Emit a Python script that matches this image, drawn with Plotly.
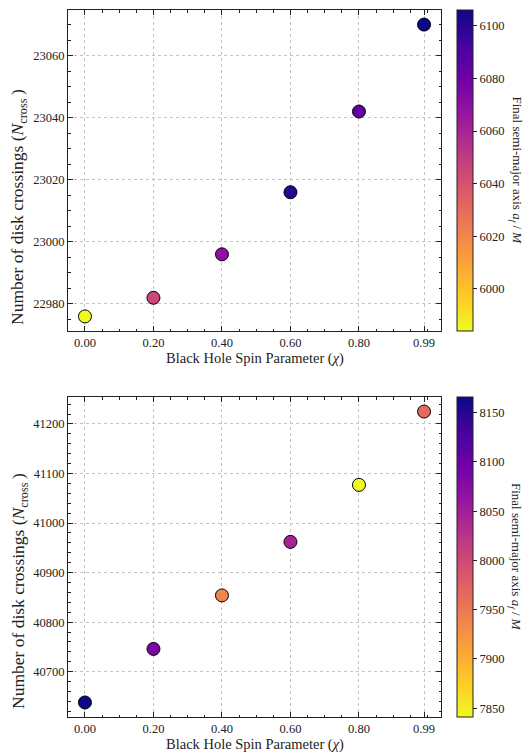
import plotly.graph_objects as go

spin = [0.0, 0.2, 0.4, 0.6, 0.8, 0.99]
spin_labels = ["0.00", "0.20", "0.40", "0.60", "0.80", "0.99"]

ncross_top = [22976, 22982, 22996, 23016, 23042, 23070]
afinal_top = [5984, 6045, 6070, 6100, 6085, 6106]

ncross_bot = [40638, 40746, 40854, 40962, 41077, 41225]
afinal_bot = [8166, 8085, 7938, 8046, 7841, 7965]

FONT = "Times New Roman, Liberation Serif, Tinos, serif"
W, H = 528, 752

def px_x(p):
    return p / W

def px_y(p):
    return 1 - p / H

fig = go.Figure()

fig.add_trace(go.Scatter(
    x=spin, y=ncross_top, mode="markers", xaxis="x", yaxis="y",
    marker=dict(size=13, color=afinal_top, coloraxis="coloraxis",
                line=dict(color="black", width=1)),
    showlegend=False,
))
fig.add_trace(go.Scatter(
    x=spin, y=ncross_bot, mode="markers", xaxis="x2", yaxis="y2",
    marker=dict(size=13, color=afinal_bot, coloraxis="coloraxis2",
                line=dict(color="black", width=1)),
    showlegend=False,
))

def pad(vals, frac=0.05):
    lo, hi = min(vals), max(vals)
    d = (hi - lo) * frac
    return [lo - d, hi + d]

xrange_ = pad(spin)

common_axis = dict(
    showline=True, linecolor="#222", linewidth=1, mirror="allticks",
    ticks="inside", ticklen=5, tickwidth=1, tickcolor="#222",
    showgrid=True, gridcolor="#c4c4c4", gridwidth=0.6, griddash="dot",
    zeroline=False, exponentformat="none",
    tickfont=dict(family=FONT, size=12.5, color="#222"),
)

xd = [px_x(68), px_x(441)]
top_dom = [px_y(331), px_y(10)]
bot_dom = [px_y(717), px_y(397)]

xtitle = "Black Hole Spin Parameter (<i>χ</i>)"
ytitle = "Number of disk crossings (<i>N</i><sub>cross</sub>\u2009)"
ctitle = "Final semi-major axis <i>a<sub>f</sub></i> / <i>M</i>"

def cbar(dom, tickvals):
    return dict(
        x=px_x(457), xanchor="left", xpad=0, ypad=0,
        thickness=16, thicknessmode="pixels",
        y=(dom[0] + dom[1]) / 2, yanchor="middle",
        len=dom[1] - dom[0], lenmode="fraction",
        outlinecolor="#222", outlinewidth=1,
        ticks="outside", ticklen=4, tickcolor="#222",
        tickvals=tickvals, tickformat="d",
        tickfont=dict(family=FONT, size=12.5, color="#222"),
    )

fig.update_layout(
    width=W, height=H,
    margin=dict(l=0, r=0, t=0, b=0),
    paper_bgcolor="white", plot_bgcolor="white",
    font=dict(family=FONT, color="#222"),
    xaxis=dict(common_axis, domain=xd, anchor="y", range=xrange_,
               tickvals=spin, ticktext=spin_labels,
               minor=dict(dtick=0.05, tick0=0, ticks="inside", ticklen=2.5,
                          tickcolor="#222", showgrid=False)),
    yaxis=dict(common_axis, domain=top_dom, anchor="x", range=pad(ncross_top),
               dtick=20, tick0=0, tickformat="d",
               minor=dict(dtick=5, ticks="inside", ticklen=2.5,
                          tickcolor="#222", showgrid=False)),
    xaxis2=dict(common_axis, domain=xd, anchor="y2", range=xrange_,
                tickvals=spin, ticktext=spin_labels,
                minor=dict(dtick=0.05, tick0=0, ticks="inside", ticklen=2.5,
                           tickcolor="#222", showgrid=False)),
    yaxis2=dict(common_axis, domain=bot_dom, anchor="x2", range=pad(ncross_bot),
                dtick=100, tick0=0, tickformat="d",
                minor=dict(dtick=20, ticks="inside", ticklen=2.5,
                           tickcolor="#222", showgrid=False)),
    coloraxis=dict(colorscale="Plasma_r", cmin=min(afinal_top), cmax=max(afinal_top),
                   colorbar=cbar(top_dom, [6000, 6020, 6040, 6060, 6080, 6100])),
    coloraxis2=dict(colorscale="Plasma_r", cmin=min(afinal_bot), cmax=max(afinal_bot),
                    colorbar=cbar(bot_dom, [7850, 7900, 7950, 8000, 8050, 8100, 8150])),
)

# colorbar titles (reading downward, as in the reference)
for dom in (top_dom, bot_dom):
    fig.add_annotation(
        text=ctitle, textangle=90, showarrow=False,
        xref="paper", yref="paper", x=px_x(516), y=(dom[0] + dom[1]) / 2,
        xanchor="center", yanchor="middle",
        font=dict(family=FONT, size=13, color="#222"),
    )

# y-axis titles
for ycen in (207, 591):
    fig.add_annotation(
        text=ytitle, textangle=-90, showarrow=False,
        xref="paper", yref="paper", x=px_x(19), y=px_y(ycen),
        xanchor="center", yanchor="middle",
        font=dict(family=FONT, size=17.5, color="#222"),
    )

# x-axis titles
for ycen in (358, 744.5):
    fig.add_annotation(
        text=xtitle, showarrow=False, borderpad=0,
        xref="paper", yref="paper", x=(xd[0] + xd[1]) / 2, y=px_y(ycen),
        xanchor="center", yanchor="middle",
        font=dict(family=FONT, size=14.5, color="#222"),
    )

fig.write_html("out.html")
